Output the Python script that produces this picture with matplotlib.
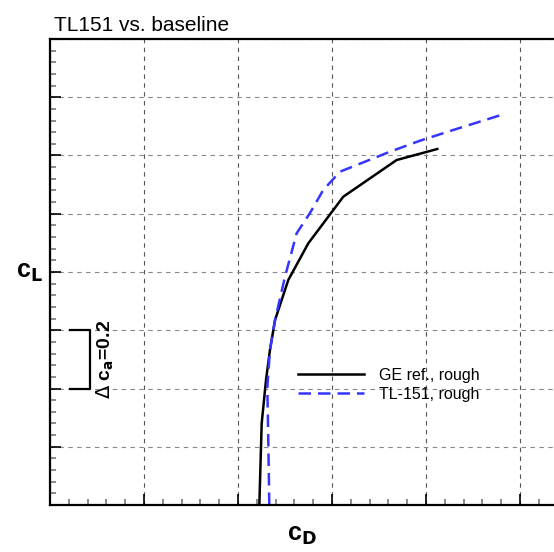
import matplotlib
matplotlib.use("Agg")
import matplotlib.pyplot as plt
from matplotlib.ticker import MultipleLocator

plt.rcParams['font.family'] = ['Liberation Sans', 'DejaVu Sans']

# drag polar
cd_ge = [0.02227, 0.02252, 0.02298, 0.02340, 0.02394, 0.02535, 0.02748, 0.03120, 0.03688, 0.04120]
cl_ge = [0.0, 0.2805, 0.4292, 0.5322, 0.6352, 0.7725, 0.8985, 1.0585, 1.1845, 1.2223]

cd_tl = [0.02333, 0.02322, 0.02312, 0.02340, 0.02394, 0.02500, 0.02624, 0.02766, 0.02907,
         0.03085, 0.03263, 0.03617, 0.03936, 0.04290, 0.04798]
cl_tl = [0.0, 0.2232, 0.4062, 0.5322, 0.6352, 0.7839, 0.9329, 1.0026, 1.0815,
         1.1444, 1.1674, 1.2130, 1.2508, 1.2876, 1.339]

label_ge = "GE ref., rough"
label_tl = "TL-151, rough"

fig = plt.figure(figsize=(5.54, 5.52), dpi=100)
ax = fig.add_axes([50 / 554, 47 / 552, 504 / 554, 466 / 552])

ax.plot(cd_ge, cl_ge, color="black", lw=1.8, label=label_ge)
ax.plot(cd_tl, cl_tl, color="#3535ff", lw=1.8, dashes=(5, 2.8), label=label_tl)

ax.set_xlim(0, 504 / 94 * 0.01)
ax.set_ylim(0, 1.6)
ax.xaxis.set_major_locator(MultipleLocator(0.01))
ax.xaxis.set_minor_locator(MultipleLocator(0.002))
ax.yaxis.set_major_locator(MultipleLocator(0.2))
ax.yaxis.set_minor_locator(MultipleLocator(0.04))
ax.tick_params(which="both", direction="in", labelbottom=False, labelleft=False, top=False, right=False)
ax.tick_params(which="major", length=8, width=1.2)
ax.tick_params(which="minor", length=4.5, width=1.2, color="#777777")

ax.xaxis.grid(True, color="#555555", ls=(0, (4, 4)), lw=0.8)
ax.yaxis.grid(True, color="#888888", ls=(0, (4, 4)), lw=0.8)

for s in ["left", "bottom", "top"]:
    ax.spines[s].set_linewidth(1.6)
ax.spines["right"].set_visible(False)

# delta bracket
ax.plot([0.00213, 0.00426, 0.00426, 0.00213], [0.6, 0.6, 0.4, 0.4], color="black", lw=1.6)
ax.text(0.0059, 0.5, r"$\Delta$ c$_\mathbf{a}$=0.2", rotation=90, ha="center", va="center",
        fontsize=14, fontweight="bold")

ax.legend(loc="upper left", bbox_to_anchor=(0.464, 0.325), frameon=False, fontsize=11.5,
          handlelength=4.1, handletextpad=0.95, labelspacing=0.25)

ax.set_title("TL151 vs. baseline", loc="left", fontsize=15, pad=6, x=0.008)
ax.set_xlabel(r"c$_\mathbf{D}$", fontsize=18, fontweight="bold", labelpad=13)
ax.set_ylabel(r"c$_\mathbf{L}$", fontsize=18, fontweight="bold", rotation=0, labelpad=15, va="center")

fig.savefig("out.png", dpi=100)
